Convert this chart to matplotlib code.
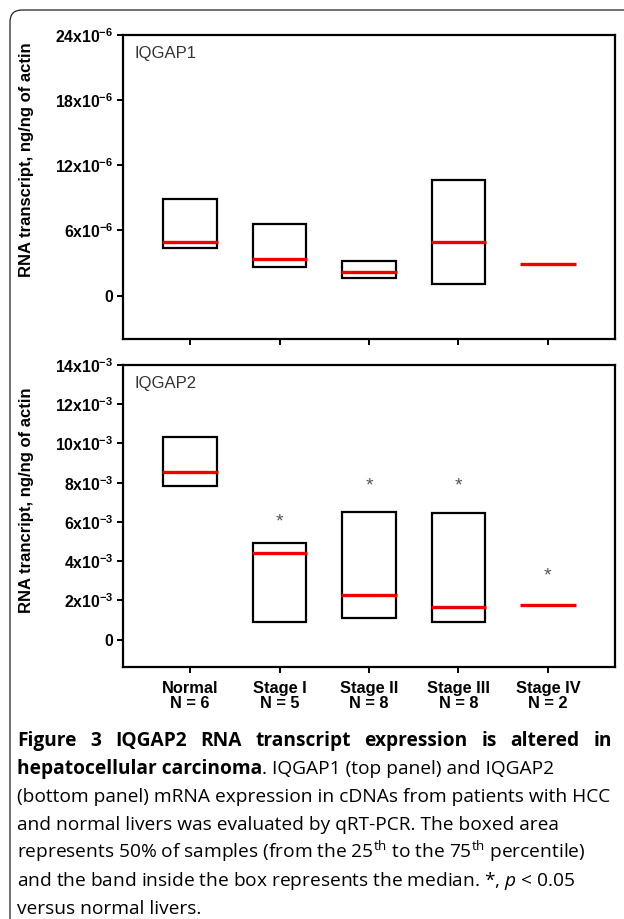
import numpy as np
import matplotlib
matplotlib.use("Agg")
import matplotlib.pyplot as plt
from matplotlib import rcParams
from matplotlib.patches import FancyBboxPatch

rcParams['font.family'] = ['Liberation Sans', 'DejaVu Sans']
rcParams['mathtext.fontset'] = 'custom'
rcParams['mathtext.rm'] = 'Open Sans'
rcParams['mathtext.it'] = 'Open Sans:italic'
rcParams['mathtext.bf'] = 'Liberation Sans:bold'

# data
categories = ['Normal', 'Stage I', 'Stage II', 'Stage III', 'Stage IV']
n_samples = [6, 5, 8, 8, 2]

# IQGAP1 (x1e-6)
iq1_q1 = [4.35, 2.6, 1.66, 1.1, None]
iq1_q3 = [8.86, 6.55, 3.14, 10.6, None]
iq1_med = [4.9, 3.4, 2.2, 4.9, 2.95]

# IQGAP2 (x1e-3)
iq2_q1 = [7.84, 0.87, 1.12, 0.87, None]
iq2_q3 = [10.33, 4.94, 6.51, 6.46, None]
iq2_med = [8.55, 4.43, 2.29, 1.68, 1.78]
iq2_star = [None, 6.0, 7.84, 7.84, 3.26]

top_ticks = [0, 6, 12, 18, 24]
bot_ticks = [0, 2, 4, 6, 8, 10, 12, 14]

W, H = 624, 919
fig = plt.figure(figsize=(W / 100, H / 100), dpi=100)

ax1 = fig.add_axes([123 / W, 1 - 339 / H, 492 / W, 304 / H])
ax2 = fig.add_axes([123 / W, 1 - 667 / H, 492 / W, 302 / H])

x = np.arange(1, len(categories) + 1)


def draw_panel(ax, q1, q3, med, scale):
    for xi, lo, hi, m in zip(x, q1, q3, med):
        if lo is not None:
            ax.bar(xi, (hi - lo) * scale, bottom=lo * scale, width=0.6,
                   fill=False, edgecolor='black', linewidth=1.6, zorder=2)
        ax.hlines(m * scale, xi - 0.31, xi + 0.31, color='#ee0000',
                  linewidth=2.4, zorder=3)
    ax.set_xlim(0.25, 5.75)
    for s in ax.spines.values():
        s.set_linewidth(1.6)
    ax.tick_params(direction='out', length=4, width=1.4, pad=3,
                   labelsize=11.3)
    ax.set_xticks(x)


draw_panel(ax1, iq1_q1, iq1_q3, iq1_med, 1e-6)
draw_panel(ax2, iq2_q1, iq2_q3, iq2_med, 1e-3)

ax1.set_ylim(-4e-6, 24e-6)
ax1.set_yticks([t * 1e-6 for t in top_ticks])
ax1.set_yticklabels(['0'] + [f'{t}x10$^{{\\mathbf{{-6}}}}$' for t in top_ticks[1:]],
                    fontweight='bold')
ax1.set_xticklabels([])

ax2.set_ylim(-1.4e-3, 14e-3)
ax2.set_yticks([t * 1e-3 for t in bot_ticks])
ax2.set_yticklabels(['0'] + [f'{t}x10$^{{\\mathbf{{-3}}}}$' for t in bot_ticks[1:]],
                    fontweight='bold')
ax2.set_xticklabels([f'{c}\nN = {k}' for c, k in zip(categories, n_samples)],
                    fontweight='bold', linespacing=1.05, fontsize=11.8)
ax2.tick_params(axis='x', pad=6)

for xi, s in zip(x, iq2_star):
    if s is not None:
        ax2.text(xi, s * 1e-3, '*', ha='center', va='center',
                 fontsize=14, color='#555555')

ax1.text(0.024, 0.965, 'IQGAP1', transform=ax1.transAxes, va='top',
         fontsize=12, color='#333333')
ax2.text(0.024, 0.965, 'IQGAP2', transform=ax2.transAxes, va='top',
         fontsize=12, color='#333333')

ax1.set_ylabel('RNA transcript, ng/ng of actin', fontweight='bold', fontsize=12)
ax1.yaxis.set_label_coords(-0.18, 0.59)
ax2.set_ylabel('RNA trancript, ng/ng of actin', fontweight='bold', fontsize=12)
ax2.yaxis.set_label_coords(-0.18, 0.553)

# outer frame with rounded corner
frame = FancyBboxPatch((0.10, -1), 20, 9.09 + 1,
                       boxstyle='round,pad=0,rounding_size=0.12',
                       transform=fig.dpi_scale_trans, fill=False,
                       edgecolor='#222222', linewidth=0.9)
fig.patches.append(frame)

# caption
cap_font = ['Open Sans', 'DejaVu Sans']
cap_size = 13.8
x0, x1 = 17, 612
base0, step = 746, 28
fig.canvas.draw()
r = fig.canvas.get_renderer()


def ytxt(i):
    return 1 - (base0 + step * i) / H


def width_of(t):
    return t.get_window_extent(r).width


# line 1, justified bold
words = 'Figure 3 IQGAP2 RNA transcript expression is altered in'.split()
ts = [fig.text(0, ytxt(0), w, fontsize=cap_size, fontweight='bold',
               family=cap_font, va='baseline') for w in words]
ws = [width_of(t) for t in ts]
gap = (x1 - x0 - sum(ws)) / (len(ws) - 1)
pos = x0
for t, w in zip(ts, ws):
    t.set_x(pos / W)
    pos += w + gap

# line 2, mixed
tb = fig.text(x0 / W, ytxt(1), 'hepatocellular carcinoma', fontsize=cap_size,
              fontweight='bold', family=cap_font, va='baseline')
wb = width_of(tb)
fig.text((x0 + wb) / W, ytxt(1), '. IQGAP1 (top panel) and IQGAP2',
         fontsize=cap_size, family=cap_font, va='baseline')

rest = [
    '(bottom panel) mRNA expression in cDNAs from patients with HCC',
    'and normal livers was evaluated by qRT-PCR. The boxed area',
    'represents 50% of samples (from the 25$^{\\mathrm{th}}$ to the 75$^{\\mathrm{th}}$ percentile)',
    'and the band inside the box represents the median. *, $p$ < 0.05',
    'versus normal livers.',
]
for i, line in enumerate(rest):
    fig.text(x0 / W, ytxt(i + 2), line, fontsize=cap_size, family=cap_font,
             va='baseline')

fig.savefig('out.png', dpi=100)
